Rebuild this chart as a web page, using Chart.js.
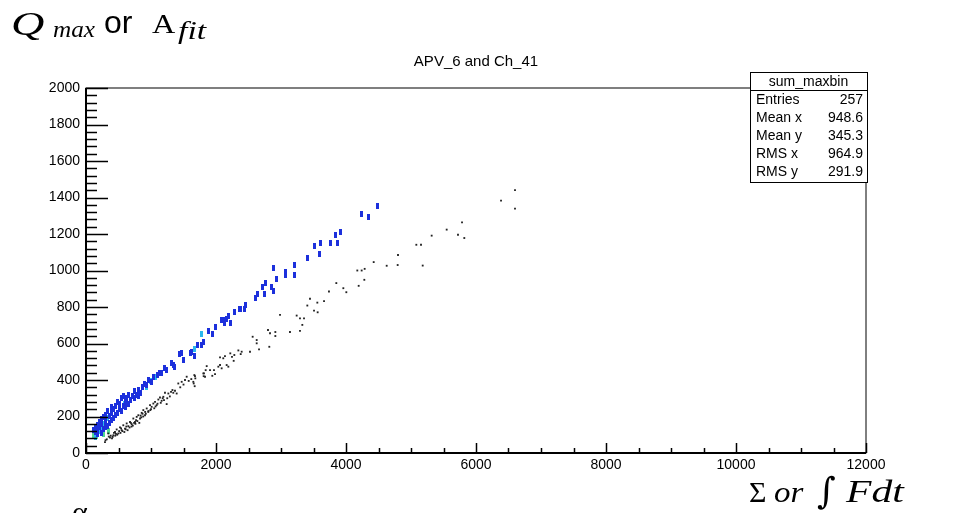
<!DOCTYPE html>
<html>
<head>
<meta charset="utf-8">
<script src="https://cdn.jsdelivr.net/npm/chart.js@4"></script>
<style>
  html, body { margin: 0; padding: 0; background: #fff; }
  canvas { display: block; }
</style>
</head>
<body>
<canvas id="chart" width="967" height="513"></canvas>
<script>
// values: [sum or integral, Qmax / Afit]
const blackPoints = [
  [6600,1440],[6385,1383],[6600,1339],[5785,1264],[5549,1224],[5318,1191],[5723,1196],[5820,1178],
  [5082,1141],[5154,1141],[4800,1085],[4626,1026],[4795,1030],[5180,1027],[4426,1046],[4287,1009],
  [4174,1000],[4241,1000],[4282,949],[4195,916],[3851,931],[3959,903],[4005,881],[3738,885],
  [3446,845],[3405,808],[3559,824],[3662,832],[3508,780],[3564,771],[3292,738],[3354,738],
  [3328,702],[3292,669],[2985,757],[3241,753],[3138,663],[2800,674],[2831,656],[2913,663],
  [2913,641],[2820,582],[2564,637],[2626,619],[2626,601],[2662,568],[2523,555],[2395,555],
  [2344,562],[2380,542],[2282,537],[2220,546],[2246,527],[2138,531],[2112,519],[2062,524],
  [2272,505],[2190,473],[2062,482],[2087,464],[1969,454],[1985,432],[1943,423],[1857,476],
  [1841,454],[1815,436],[1810,421],[1667,427],[1682,409],[1657,381],[1672,366],[1908,454],
  [2036,473],[2164,482],[1805,436],[1831,418],[1651,390],[1677,421],[1549,418],[1523,400],
  [1472,390],[1420,381],[1395,326],[1369,341],[1343,330],[1308,335],[1267,326],[1215,330],
  [1241,268],[1190,308],[1164,286],[1138,304],[1113,293],[1087,262],[1062,280],[1036,271],
  [1010,253],[985,262],[958,225],[934,244],[908,207],[882,235],[857,220],[831,189],
  [805,207],[780,198],[754,170],[728,189],[703,158],[677,170],[651,147],[626,162],
  [600,134],[574,152],[549,125],[523,140],[497,107],[472,129],[446,115],[420,97],
  [369,85],[343,107],[292,60],[320,75],[400,80],[450,95],[480,100],[530,110],
  [560,120],[610,130],[640,125],[700,145],[720,150],[760,160],[790,175],[820,165],
  [850,195],[880,200],[920,215],[960,230],[1000,240],[1050,245],[1100,270],[1150,275],
  [1200,290],[1250,300],[1290,310],[1330,345],[1450,360],[1500,375],[1580,395],[1620,405],
  [380,95],[430,110],[510,120],[590,115],[670,140],[740,165],[870,215],[990,235],
  [300,70],[350,90],[410,88],[460,105],[540,135],[620,145],[690,165],[770,180],
  [840,205],[910,225],[1070,255],[1180,300]
];

const blueBins = [
  [120,125],[150,115],[150,140],[180,105],[180,130],[180,155],[210,145],[210,170],
  [240,110],[240,160],[240,185],[270,130],[270,200],[300,140],[300,175],[300,210],
  [330,150],[330,230],[360,165],[360,205],[390,180],[390,220],[390,250],[420,190],
  [420,240],[450,210],[450,260],[480,220],[480,280],[510,240],[510,270],[540,230],
  [540,300],[570,260],[570,310],[600,250],[600,280],[630,300],[660,270],[660,320],
  [690,290],[720,310],[750,300],[750,340],[780,320],[810,310],[810,345],[840,330],
  [870,360],[900,380],[930,370],[960,400],[1010,390],[1040,414],[1097,427],[1138,440],
  [1164,436],[1215,464],[1241,454],[1318,491],[1343,482],[1354,473],[1431,542],[1472,546],
  [1497,509],[1600,546],[1626,555],[1662,533],[1610,549],[1723,592],[1780,592],[1815,610],
  [1892,670],[1949,651],[1995,689],[2077,729],[2133,729],[2133,711],[2169,733],[2195,751],
  [2226,711],[2292,773],[2358,791],[2379,791],[2431,791],[2451,812],[2610,850],[2631,872],
  [2713,912],[2749,872],[2769,931],[2851,912],[2882,890],[2892,1011],[2933,953],[3072,990],
  [3072,973],[3205,1031],[3210,973],[3410,1071],[3513,1132],[3595,1092],[3615,1152],[3769,1152],
  [3836,1192],[3872,1152],[3913,1213],[4231,1311],[4349,1291],[4492,1352]
];

const cyanBins = [
  [150,90],[210,120],[241,143],[270,160],[330,190],[590,271],[933,359],[985,395],
  [1062,418],[1672,571],[1774,651]
];

const greenBins = [
  [120,95],[164,92],[267,106],[344,118]
];

const statsLabels = ['Entries', 'Mean x', 'Mean y', 'RMS x', 'RMS y'];
const statsValues = ['257', '948.6', '345.3', '964.9', '291.9'];

const xMax = 12000, xMajor = 2000, xMinor = 500;
const yMax = 2000, yMajor = 200, yMinor = 40;

function toXY(list) {
  return list.map(p => ({ x: p[0], y: p[1] }))
}

function binMarker(color) {
  const c = document.createElement('canvas');
  c.width = 3;
  c.height = 6;
  const g = c.getContext('2d');
  g.fillStyle = color;
  g.fillRect(0, 0, 3, 6);
  return c
}

// draws text squeezed/stretched horizontally
function wideText(ctx, text, x, y, sx) {
  ctx.save();
  ctx.translate(x, y);
  ctx.scale(sx, 1);
  ctx.fillText(text, 0, 0);
  ctx.restore();
}

// ROOT style frame: inward ticks with minor ticks
const rootFrame = {
  id: 'rootFrame',
  afterDatasetsDraw(chart) {
    const { ctx, chartArea: a, scales: { x, y } } = chart;
    ctx.save();
    ctx.strokeStyle = '#000';
    ctx.lineWidth = 1;
    ctx.strokeRect(a.left, a.top, a.right - a.left, a.bottom - a.top);
    ctx.lineWidth = 1.5;
    ctx.beginPath();
    for (let v = 0; v <= xMax; v += xMinor) {
      const px = Math.round(x.getPixelForValue(v)) + 0.5;
      const len = v % xMajor === 0 ? 10 : 5;
      ctx.moveTo(px, a.bottom);
      ctx.lineTo(px, a.bottom - len);
    }
    for (let v = 0; v <= yMax; v += yMinor) {
      const py = Math.round(y.getPixelForValue(v)) + 0.5;
      const len = v % yMajor === 0 ? 22 : 11;
      ctx.moveTo(a.left, py);
      ctx.lineTo(a.left + len, py);
    }
    ctx.stroke();
    ctx.lineWidth = 2;
    ctx.beginPath();
    ctx.moveTo(a.left, a.top);
    ctx.lineTo(a.left, a.bottom);
    ctx.lineTo(a.right, a.bottom);
    ctx.stroke();
    ctx.restore();
  },
  afterDraw(chart) {
    const ctx = chart.ctx;
    ctx.save();
    // title
    ctx.fillStyle = '#000';
    ctx.font = '15px "Liberation Sans", Arial, sans-serif';
    ctx.textAlign = 'center';
    ctx.textBaseline = 'middle';
    ctx.fillText('APV_6 and Ch_41', 476, 62);

    // stats box
    const bx = 750, by = 72, bw = 117, bh = 110;
    ctx.fillStyle = '#fff';
    ctx.fillRect(bx, by, bw, bh);
    ctx.strokeStyle = '#000';
    ctx.lineWidth = 1;
    ctx.strokeRect(bx + 0.5, by + 0.5, bw, bh);
    ctx.beginPath();
    ctx.moveTo(bx, by + 18.5);
    ctx.lineTo(bx + bw, by + 18.5);
    ctx.stroke();
    ctx.fillStyle = '#000';
    ctx.font = '14px "Liberation Sans", Arial, sans-serif';
    ctx.textAlign = 'center';
    ctx.fillText('sum_maxbin', bx + bw / 2, by + 10);
    statsLabels.forEach((lab, i) => {
      const ty = by + 28.5 + i * 17.8;
      ctx.textAlign = 'left';
      ctx.fillText(lab, bx + 6, ty);
      ctx.textAlign = 'right';
      ctx.fillText(statsValues[i], bx + bw - 4, ty);
    });

    // hand written axis captions
    ctx.textAlign = 'left';
    ctx.textBaseline = 'alphabetic';
    ctx.font = 'italic 33px "Liberation Serif", serif';
    wideText(ctx, 'Q', 11, 35, 1.4);
    ctx.font = 'italic 24px "Liberation Serif", serif';
    wideText(ctx, 'max', 53, 37, 1.05);
    ctx.font = '32px "Liberation Sans", Arial, sans-serif';
    ctx.fillText('or', 104, 33);
    ctx.font = '28px "Liberation Serif", serif';
    wideText(ctx, 'A', 152, 33, 1.15);
    ctx.font = 'italic 25px "Liberation Serif", serif';
    wideText(ctx, 'fit', 178, 39, 1.35);

    ctx.font = '30px "Liberation Serif", serif';
    ctx.fillText('\u03A3', 749, 502);
    ctx.font = 'italic 30px "Liberation Serif", serif';
    wideText(ctx, 'or', 774, 502, 1.1);
    ctx.font = '36px "DejaVu Serif", serif';
    ctx.fillText('\u222B', 817, 503);
    ctx.font = 'italic 32px "Liberation Serif", serif';
    wideText(ctx, 'Fdt', 846, 502, 1.3);

    ctx.font = '30px "Liberation Serif", serif';
    ctx.fillText('\u03B1', 72, 522);
    ctx.restore();
  }
};

const tickFont = { family: '"Liberation Sans", Arial, sans-serif', size: 14 };

new Chart(document.getElementById('chart'), {
  type: 'scatter',
  data: {
    datasets: [
      {
        label: 'scatter',
        data: toXY(blackPoints),
        pointStyle: 'rect',
        pointRadius: 1.3,
        backgroundColor: '#222',
        borderWidth: 0
      },
      {
        label: 'bins 1',
        data: toXY(blueBins),
        pointStyle: binMarker('#1c30dc'),
        pointRadius: 3
      },
      {
        label: 'bins 2',
        data: toXY(cyanBins),
        pointStyle: binMarker('#2ab8ee'),
        pointRadius: 3
      },
      {
        label: 'bins 3',
        data: toXY(greenBins),
        pointStyle: binMarker('#4fd890'),
        pointRadius: 3
      }
    ]
  },
  options: {
    responsive: false,
    animation: false,
    events: [],
    layout: { padding: { top: 88, right: 101, left: 0, bottom: 0 } },
    plugins: {
      legend: { display: false },
      tooltip: { enabled: false }
    },
    scales: {
      x: {
        type: 'linear',
        min: 0,
        max: xMax,
        afterFit: s => { s.height = 60 },
        grid: { display: false, drawTicks: false },
        border: { display: false },
        ticks: { stepSize: xMajor, color: '#000', font: tickFont, padding: 4, maxRotation: 0, callback: v => String(v) }
      },
      y: {
        type: 'linear',
        min: 0,
        max: yMax,
        afterFit: s => { s.width = 86 },
        grid: { display: false, drawTicks: false },
        border: { display: false },
        ticks: { stepSize: yMajor, color: '#000', font: tickFont, padding: 6, callback: v => String(v) }
      }
    }
  },
  plugins: [rootFrame]
});
</script>
</body>
</html>
